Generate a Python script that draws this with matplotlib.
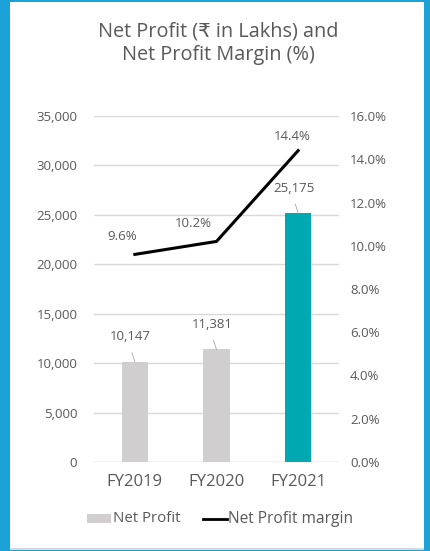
import matplotlib
matplotlib.use("Agg")
from matplotlib import pyplot as plt
from matplotlib.patches import Rectangle
from matplotlib.ticker import FuncFormatter

# data
years = ["FY2019", "FY2020", "FY2021"]
net_profit = [10147, 11381, 25175]
margin = [9.6, 10.2, 14.4]
bar_colors = ["#D0CECE", "#D0CECE", "#00A9B2"]

txt = "#595959"
plt.rcParams['font.family'] = ['Open Sans', 'DejaVu Sans']

W, H = 430, 551
fig = plt.figure(figsize=(W/100, H/100), dpi=100)
fig.patch.set_facecolor("#1BA3D8")

# white card on blue backdrop
fig.patches.append(Rectangle((10/W, 1 - 548/H), 414/W, 546/H, transform=fig.transFigure,
                             facecolor="white", edgecolor="none", zorder=-10))
fig.patches.append(Rectangle((10/W, 1 - 550/H), 414/W, 2/H, transform=fig.transFigure,
                             facecolor="#D9D9D9", edgecolor="none", zorder=-10))

ax = fig.add_axes([94/W, 1 - 462/H, 245/W, 346/H])
ax.set_facecolor("none")
x = list(range(len(years)))
ax.bar(x, net_profit, width=0.32, color=bar_colors, zorder=2)
ax.set_xlim(-0.5, 2.5)
ax.set_ylim(0, 35000)
ax.set_yticks(range(0, 35001, 5000))
ax.yaxis.set_major_formatter(FuncFormatter(lambda v, p: "{:,.0f}".format(v)))
ax.grid(axis="y", color="#D9D9D9", linewidth=1, zorder=0)
ax.set_xticks(x)
ax.set_xticklabels(years, fontsize=12, color=txt)
for s in ax.spines.values():
    s.set_visible(False)
ax.tick_params(axis="y", length=0, pad=12, labelsize=9.5, labelcolor=txt)
ax.tick_params(axis="x", length=0, pad=9)
ax.axhline(0, color="#D9D9D9", linewidth=1, zorder=1)

for i, v in enumerate(net_profit):
    ax.annotate("{:,}".format(v), xy=(i, v), xytext=(-3, 18), textcoords="offset points",
                ha="center", va="center", fontsize=9.5, color=txt)
    ax.plot([i - 0.035, i], [v + 900, v], color="#A6A6A6", linewidth=0.6, zorder=3)

ax2 = ax.twinx()
ax2.plot(x, margin, color="black", linewidth=2.2, zorder=4)
ax2.set_ylim(0, 16)
ax2.set_yticks(range(0, 17, 2))
ax2.yaxis.set_major_formatter(FuncFormatter(lambda v, p: "{:.1f}%".format(v)))
ax2.tick_params(axis="y", length=0, pad=8, labelsize=9.5, labelcolor=txt)
for s in ax2.spines.values():
    s.set_visible(False)
offs = [(-9, 13), (-17, 13), (-4, 10)]
for i, m in enumerate(margin):
    ax2.annotate("{:.1f}%".format(m), xy=(i, m), xytext=offs[i], textcoords="offset points",
                 ha="center", va="center", fontsize=9.5, color=txt)

fig.text(218/W, 1 - 43.5/H, "Net Profit (\u20b9 in Lakhs) and\nNet Profit Margin (%)",
         ha="center", va="center", fontsize=14.3, color=txt, linespacing=1.2)

# legend drawn by hand
fig.patches.append(Rectangle((87/W, 1 - 523/H), 24/W, 9/H, transform=fig.transFigure,
                             facecolor="#D0CECE", edgecolor="none"))
fig.text(113/W, 1 - 519/H, "Net Profit", ha="left", va="center", fontsize=10.8, color=txt)
fig.lines.append(plt.Line2D([203/W, 227/W], [1 - 519/H, 1 - 519/H], transform=fig.transFigure,
                            color="black", linewidth=2))
fig.text(228/W, 1 - 519/H, "Net Profit margin", ha="left", va="center", fontsize=11.2, color=txt)

fig.savefig("out.png", dpi=100, facecolor=fig.get_facecolor())
